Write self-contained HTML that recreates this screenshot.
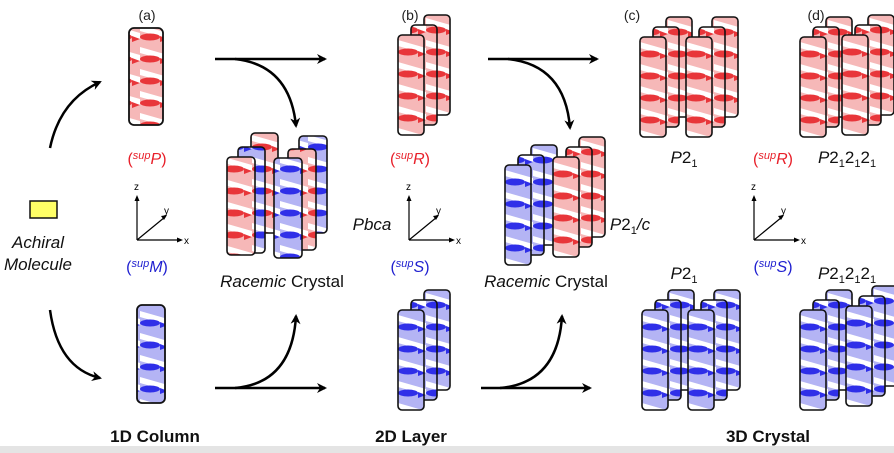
<!DOCTYPE html>
<html><head><meta charset="utf-8"><style>
html,body{margin:0;padding:0;background:#fff;}
svg{display:block;}
text{font-family:"Liberation Sans",Arial,sans-serif;}
</style></head><body>
<svg width="894" height="453" viewBox="0 0 894 453" xmlns="http://www.w3.org/2000/svg">
<defs>
<pattern id="pR" width="28" height="22" patternUnits="userSpaceOnUse">
<rect width="28" height="22" fill="#f6b8b8"/>
<polygon points="0,3 28,11 28,17 0,9" fill="#fff"/>
<ellipse cx="10" cy="15" rx="10" ry="3.5" fill="#e8363a"/>
<polygon points="20,14 28,17 20,20" fill="#e8363a"/>
</pattern>
<pattern id="pB" width="28" height="22" patternUnits="userSpaceOnUse">
<rect width="28" height="22" fill="#b4b4f4"/>
<polygon points="0,3 28,11 28,17 0,9" fill="#fff"/>
<ellipse cx="10" cy="15" rx="10" ry="3.5" fill="#2f2fe8"/>
<polygon points="20,14 28,17 20,20" fill="#2f2fe8"/>
</pattern>
<marker id="ah" markerWidth="10" markerHeight="10" refX="8" refY="5" orient="auto" markerUnits="userSpaceOnUse" viewBox="0 0 10 10">
<path d="M0,0 L10,5 L0,10 L3,5 z" fill="#000"/>
</marker>
<g id="layR">
<rect x="26" y="0" width="26" height="100" rx="4" fill="url(#pR)" stroke="#111" stroke-width="1.6"/>
<rect x="13" y="10" width="26" height="100" rx="4" fill="url(#pR)" stroke="#111" stroke-width="1.6"/>
<rect x="0" y="20" width="26" height="100" rx="4" fill="url(#pR)" stroke="#111" stroke-width="1.6"/>
</g>
<g id="layB">
<rect x="26" y="0" width="26" height="100" rx="4" fill="url(#pB)" stroke="#111" stroke-width="1.6"/>
<rect x="13" y="10" width="26" height="100" rx="4" fill="url(#pB)" stroke="#111" stroke-width="1.6"/>
<rect x="0" y="20" width="26" height="100" rx="4" fill="url(#pB)" stroke="#111" stroke-width="1.6"/>
</g>
</defs>

<rect x="0" y="446" width="894" height="7" fill="#e4e4e4"/>

<!-- singles -->
<rect x="129" y="28" width="34" height="97" rx="5" fill="url(#pR)" stroke="#111" stroke-width="1.8"/>
<rect x="137" y="305" width="28" height="98" rx="5" fill="url(#pB)" stroke="#111" stroke-width="1.8"/>

<!-- racemic 1 -->
<rect x="251" y="133" width="27" height="100" rx="4" fill="url(#pR)" stroke="#111" stroke-width="1.6"/>
<rect x="299" y="136" width="28" height="97" rx="4" fill="url(#pB)" stroke="#111" stroke-width="1.6"/>
<rect x="238" y="147" width="27" height="106" rx="4" fill="url(#pB)" stroke="#111" stroke-width="1.6"/>
<rect x="288" y="149" width="28" height="101" rx="4" fill="url(#pR)" stroke="#111" stroke-width="1.6"/>
<rect x="227" y="157" width="28" height="98" rx="4" fill="url(#pR)" stroke="#111" stroke-width="1.6"/>
<rect x="274" y="158" width="28" height="100" rx="4" fill="url(#pB)" stroke="#111" stroke-width="1.6"/>

<!-- layers -->
<use href="#layR" x="398" y="15"/>
<use href="#layB" x="398" y="290"/>
<use href="#layB" x="505" y="145"/>
<use href="#layR" x="553" y="137"/>
<use href="#layR" x="640" y="17"/>
<use href="#layR" x="686" y="17"/>
<use href="#layR" x="800" y="17"/>
<use href="#layR" x="842" y="15"/>
<use href="#layB" x="642" y="290"/>
<use href="#layB" x="688" y="290"/>
<use href="#layB" x="800" y="290"/>
<use href="#layB" x="846" y="286"/>

<!-- yellow molecule -->
<rect x="30" y="201" width="27" height="17" fill="#ffff66" stroke="#111" stroke-width="1.5"/>

<!-- arrows -->
<g fill="none" stroke="#000" stroke-width="2.5">
<path d="M50,148 Q60,100 100,82" marker-end="url(#ah)"/>
<path d="M50,310 Q58,368 100,378" marker-end="url(#ah)"/>
<path d="M215,59 L325,59" marker-end="url(#ah)"/>
<path d="M235,59 Q290,65 296,126" marker-end="url(#ah)"/>
<path d="M215,388 L325,388" marker-end="url(#ah)"/>
<path d="M235,388 Q292,383 296,316" marker-end="url(#ah)"/>
<path d="M488,59 L597,59" marker-end="url(#ah)"/>
<path d="M508,59 Q565,65 570,128" marker-end="url(#ah)"/>
<path d="M481,388 L590,388" marker-end="url(#ah)"/>
<path d="M500,388 Q558,383 562,316" marker-end="url(#ah)"/>
</g>

<!-- axes -->
<g stroke="#000" stroke-width="1.2" fill="none">
<path d="M137,240 L137,198 M137,240 L180,240 M137,240 L165,217"/>
<path d="M409,240 L409,198 M409,240 L452,240 M409,240 L437,217"/>
<path d="M754,240 L754,198 M754,240 L797,240 M754,240 L782,217"/>
</g>
<g fill="#000">
<path d="M137,195 l-2.5,6 h5z M183,240 l-6,-2.5 v5z M167,215 l-6,1 l3,4z"/>
<path d="M409,195 l-2.5,6 h5z M455,240 l-6,-2.5 v5z M439,215 l-6,1 l3,4z"/>
<path d="M754,195 l-2.5,6 h5z M800,240 l-6,-2.5 v5z M784,215 l-6,1 l3,4z"/>
</g>
<g font-size="10" fill="#000">
<text x="134" y="190">z</text><text x="164" y="214">y</text><text x="184" y="244">x</text>
<text x="406" y="190">z</text><text x="436" y="214">y</text><text x="456" y="244">x</text>
<text x="751" y="190">z</text><text x="781" y="214">y</text><text x="801" y="244">x</text>
</g>

<!-- labels -->
<g font-size="14" fill="#222" text-anchor="middle">
<text x="147" y="20">(a)</text>
<text x="410" y="20">(b)</text>
<text x="632" y="20">(c)</text>
<text x="816" y="20">(d)</text>
</g>
<g font-size="16" text-anchor="middle">
<text x="147" y="164" fill="#e8202a">(<tspan font-size="11" dy="-5" font-style="italic">sup</tspan><tspan dy="5" font-style="italic">P</tspan>)</text>
<text x="147" y="272" fill="#2020d0">(<tspan font-size="11" dy="-5" font-style="italic">sup</tspan><tspan dy="5" font-style="italic">M</tspan>)</text>
<text x="410" y="164" fill="#e8202a">(<tspan font-size="11" dy="-5" font-style="italic">sup</tspan><tspan dy="5" font-style="italic">R</tspan>)</text>
<text x="410" y="272" fill="#2020d0">(<tspan font-size="11" dy="-5" font-style="italic">sup</tspan><tspan dy="5" font-style="italic">S</tspan>)</text>
<text x="773" y="164" fill="#e8202a">(<tspan font-size="11" dy="-5" font-style="italic">sup</tspan><tspan dy="5" font-style="italic">R</tspan>)</text>
<text x="773" y="272" fill="#2020d0">(<tspan font-size="11" dy="-5" font-style="italic">sup</tspan><tspan dy="5" font-style="italic">S</tspan>)</text>
</g>
<g font-size="17" fill="#111" text-anchor="middle">
<text x="38" y="248" font-style="italic">Achiral</text>
<text x="38" y="270" font-style="italic">Molecule</text>
<text x="282" y="287"><tspan font-style="italic">Racemic</tspan> Crystal</text>
<text x="546" y="287"><tspan font-style="italic">Racemic</tspan> Crystal</text>
<text x="372" y="230" font-style="italic">Pbca</text>
<text x="630" y="230"><tspan font-style="italic">P</tspan>2<tspan font-size="11" dy="4">1</tspan><tspan dy="-4" font-style="italic">/c</tspan></text>
<text x="684" y="163"><tspan font-style="italic">P</tspan>2<tspan font-size="11" dy="4">1</tspan></text>
<text x="684" y="279"><tspan font-style="italic">P</tspan>2<tspan font-size="11" dy="4">1</tspan></text>
<text x="847" y="163"><tspan font-style="italic">P</tspan>2<tspan font-size="11" dy="4">1</tspan><tspan dy="-4">2</tspan><tspan font-size="11" dy="4">1</tspan><tspan dy="-4">2</tspan><tspan font-size="11" dy="4">1</tspan></text>
<text x="847" y="279"><tspan font-style="italic">P</tspan>2<tspan font-size="11" dy="4">1</tspan><tspan dy="-4">2</tspan><tspan font-size="11" dy="4">1</tspan><tspan dy="-4">2</tspan><tspan font-size="11" dy="4">1</tspan></text>
</g>
<g font-size="17" font-weight="bold" fill="#111" text-anchor="middle">
<text x="155" y="442">1D Column</text>
<text x="411" y="442">2D Layer</text>
<text x="768" y="442">3D Crystal</text>
</g>
</svg>
</body></html>
